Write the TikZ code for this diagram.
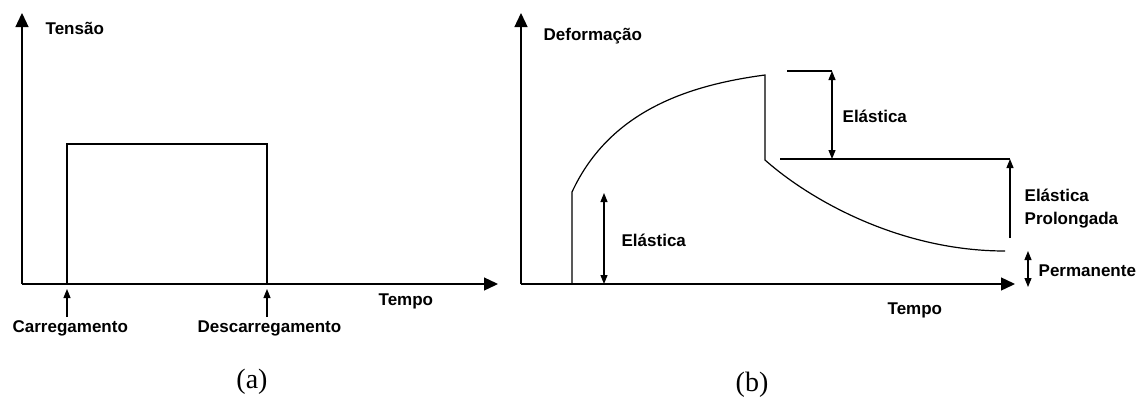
\documentclass[tikz,border=0pt]{standalone}
\usepackage{fontspec}
\setmainfont{Liberation Serif}
\setsansfont{Liberation Sans}
\usetikzlibrary{arrows.meta}
\begin{document}
\begin{tikzpicture}[x=1pt,y=-1pt, line width=1.3pt,
  lbl/.style={font=\sffamily\bfseries\fontsize{17}{20}\selectfont, inner sep=0pt, anchor=base west},
  captn/.style={font=\fontsize{28}{32}\selectfont, inner sep=0pt, anchor=base},
  axisarrow/.style={-{Triangle[length=14pt,width=13pt]}},
  tiparrow/.style={-{Triangle[length=9pt,width=7pt]}},
  dblarrow/.style={{Triangle[length=9pt,width=7pt]}-{Triangle[length=9pt,width=7pt]}, line width=1.1pt},
  curveline/.style={line width=1.2pt}]
\useasboundingbox (0,0) rectangle (1142,399);

% ---------- panel (a) ----------
\coordinate (Ao) at (22,284);
\coordinate (Ay) at (22,13);
\coordinate (Ax) at (498,284);
\draw[axisarrow] (Ao) -- (Ay);
\draw[axisarrow] (Ao) -- (Ax);
\coordinate (R1) at (67,284);
\coordinate (R2) at (67,144);
\coordinate (R3) at (267,144);
\coordinate (R4) at (267,284);
\draw[curveline] (R1) -- (R2) -- (R3) -- (R4);
\coordinate (C0) at (67,317);
\coordinate (C1) at (67,289);
\coordinate (D0) at (267,317);
\coordinate (D1) at (267,289);
\draw[tiparrow, line width=1.1pt] (C0) -- (C1);
\draw[tiparrow, line width=1.1pt] (D0) -- (D1);
\node[lbl] (tensao) at (45,34) {Tensão};
\node[lbl] (tempoa) at (378,305) {Tempo};
\node[lbl] (carr) at (12,332) {Carregamento};
\node[lbl] (descarr) at (197,332) {Descarregamento};
\node[captn] (capa) at (252,388) {(a)};

% ---------- panel (b) ----------
\coordinate (Bo) at (521,284);
\coordinate (By) at (521,13);
\coordinate (Bx) at (1015,284);
\draw[axisarrow] (Bo) -- (By);
\draw[axisarrow] (Bo) -- (Bx);
\coordinate (P0) at (572,284);
\coordinate (P1) at (572,192);
\coordinate (P2) at (765,75);
\coordinate (P3) at (765,160);
\coordinate (P4) at (1005,251);
\draw[curveline] (P0) -- (P1) .. controls (610,110) and (690,85) .. (P2) -- (P3)
  .. controls (810,200) and (900,251) .. (P4);
% reference lines
\coordinate (T0) at (787,71);
\coordinate (T1) at (832,71);
\coordinate (M0) at (780,159);
\coordinate (M1) at (1010,159);
\draw[curveline] (T0) -- (T1);
\draw[curveline] (M0) -- (M1);
% elastic (upper)
\coordinate (E1a) at (832,71);
\coordinate (E1b) at (832,159);
\draw[dblarrow] (E1a) -- (E1b);
% delayed elastic
\coordinate (E2a) at (1010,238);
\coordinate (E2b) at (1010,159);
\draw[tiparrow, line width=1.1pt] (E2a) -- (E2b);
% permanent
\coordinate (Pa) at (1028,251);
\coordinate (Pb) at (1028,287);
\draw[dblarrow] (Pa) -- (Pb);
% elastic (lower)
\coordinate (E0a) at (604,193);
\coordinate (E0b) at (604,284);
\draw[dblarrow] (E0a) -- (E0b);

\node[lbl] (deform) at (543,40) {Deformação};
\node[lbl] (elast1) at (842,122) {Elástica};
\node[lbl] (elast2) at (1024,201) {Elástica};
\node[lbl] (prolong) at (1024,224) {Prolongada};
\node[lbl] (perm) at (1038,276) {Permanente};
\node[lbl] (elast0) at (621,246) {Elástica};
\node[lbl] (tempob) at (887,314) {Tempo};
\node[captn] (capb) at (752,391) {(b)};
\end{tikzpicture}
\end{document}
